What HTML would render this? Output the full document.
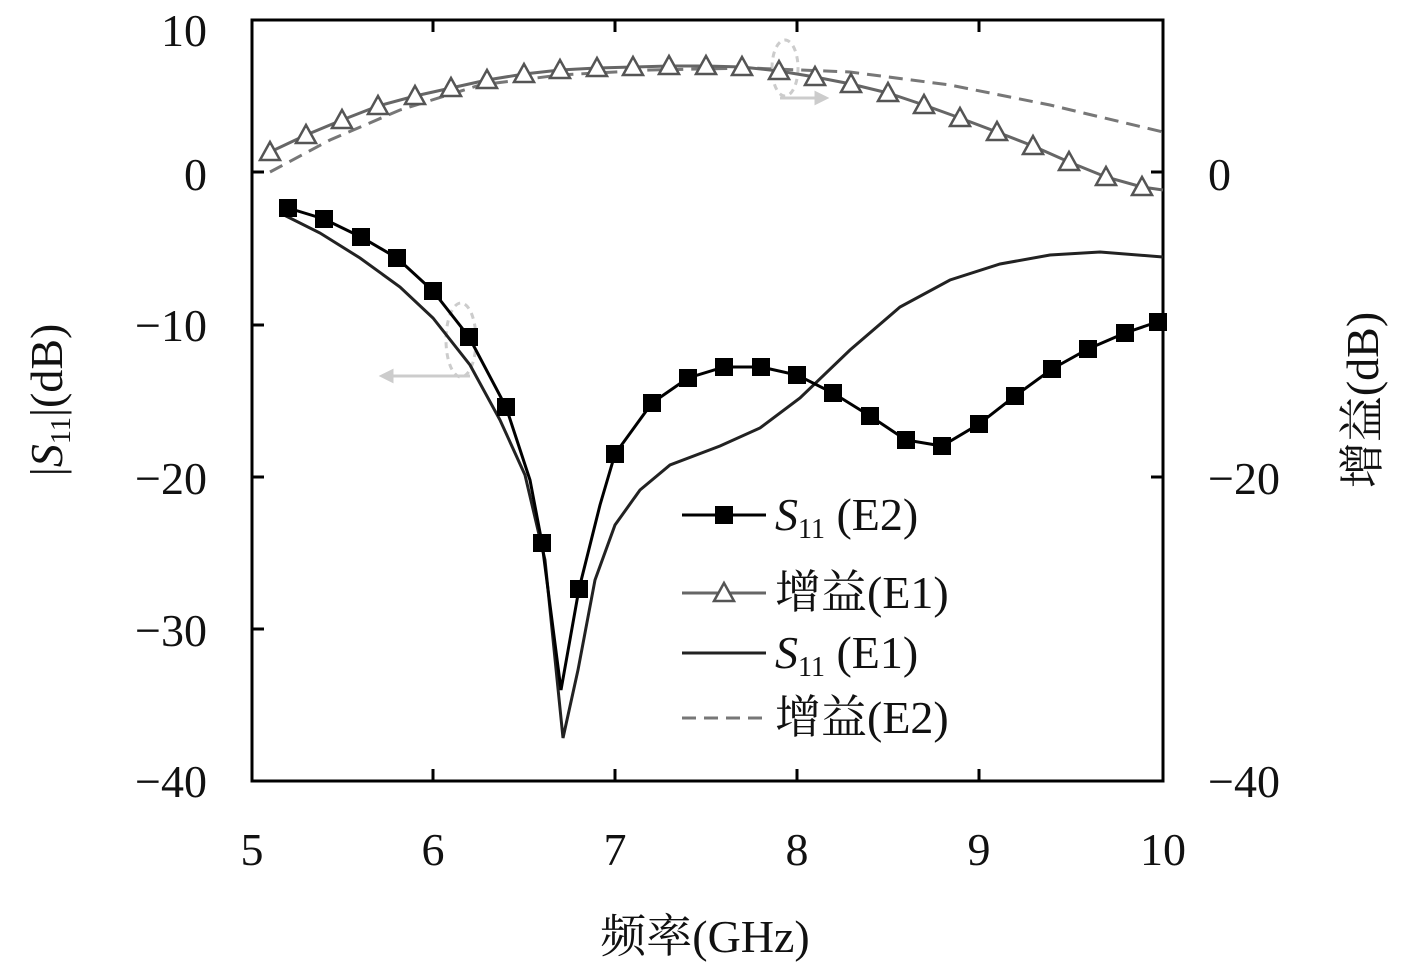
<!DOCTYPE html><html><head><style>body{margin:0;background:#fff}svg{display:block}text{font-family:"Liberation Serif","Noto Serif CJK SC",serif;font-size:46px;fill:#111}</style></head><body>
<svg width="1417" height="976" viewBox="0 0 1417 976">
<g stroke="#000" stroke-width="3" fill="none">
<rect x="252" y="20" width="911" height="761"/>
<path d="M252,172h12M252,325h12M252,477h12M252,629h12M1163,172h-12M1163,477h-12M433,781v-12M615,781v-12M797,781v-12M979,781v-12M433,20v12M615,20v12M797,20v12M979,20v12"/>
</g>
<g text-anchor="end"><text x="207" y="46">10</text><text x="207" y="190">0</text><text x="207" y="341">−10</text><text x="207" y="494">−20</text><text x="207" y="646">−30</text><text x="207" y="797">−40</text></g>
<g><text x="1208" y="190">0</text><text x="1208" y="494">−20</text><text x="1208" y="797">−40</text></g>
<g text-anchor="middle"><text x="252" y="865">5</text><text x="433" y="865">6</text><text x="615" y="865">7</text><text x="797" y="865">8</text><text x="979" y="865">9</text><text x="1163" y="865">10</text>
<text x="705" y="952">频率(GHz)</text></g>
<text transform="translate(62,400) rotate(-90)" text-anchor="middle">|<tspan font-style="italic">S</tspan><tspan font-size="28" dy="8">11</tspan><tspan dy="-8">|(dB)</tspan></text>
<text transform="translate(1378,400) rotate(-90)" text-anchor="middle">增益(dB)</text>
<g fill="none" stroke-dasharray="6,5" stroke="#ccc" stroke-width="3">
<ellipse cx="785" cy="68" rx="13" ry="28"/><ellipse cx="461" cy="340" rx="15" ry="37"/></g>
<g stroke="#ccc" stroke-width="3" fill="#ccc"><path d="M780,98h38"/><path d="M826,98l-10,-5v10z"/><path d="M470,376h-80"/><path d="M382,376l10,-5v10z"/></g>
<polyline fill="none" stroke="#777" stroke-width="3" stroke-dasharray="14,8" points="270,172 330,140 400,110 480,85 560,75 650,70 750,68 850,72 950,85 1050,105 1163,132"/>
<polyline fill="none" stroke="#666" stroke-width="3" points="270,152 306,135 342,120 378,106 415,96 451,88 487,80 524,74 560,70 597,68 633,67 669,66 706,66 742,67 779,71 815,77 851,84 888,93 924,105 960,118 997,132 1033,146 1069,162 1106,177 1142,187 1163,190"/>
<g fill="#fff" stroke="#555" stroke-width="2.5">
<path d="M270,142l10,18h-20z M306,125l10,18h-20z M342,110l10,18h-20z M378,96l10,18h-20z M415,86l10,18h-20z M451,78l10,18h-20z M487,70l10,18h-20z M524,64l10,18h-20z M560,60l10,18h-20z M597,58l10,18h-20z M633,57l10,18h-20z M669,56l10,18h-20z M706,56l10,18h-20z M742,57l10,18h-20z M779,61l10,18h-20z M815,67l10,18h-20z M851,74l10,18h-20z M888,83l10,18h-20z M924,95l10,18h-20z M960,108l10,18h-20z M997,122l10,18h-20z M1033,136l10,18h-20z M1069,152l10,18h-20z M1106,167l10,18h-20z M1142,177l10,18h-20z"/></g>
<polyline fill="none" stroke="#222" stroke-width="3" points="280,213 320,233 360,258 400,287 433,318 470,365 500,420 525,475 545,560 563,738 578,670 595,580 615,525 640,490 670,465 720,446 760,428 800,398 850,350 900,307 950,280 1000,264 1050,255 1100,252 1163,257"/>
<polyline fill="none" stroke="#000" stroke-width="3" points="288,208 324,219 361,237 397,258 433,291 469,337 506,407 530,480 542,543 561,690 579,589 600,505 615,454 652,403 688,378 724,367 761,367 797,375 833,393 870,416 906,440 942,446 979,424 1015,396 1052,369 1088,349 1125,333 1163,320"/>
<g fill="#000">
<rect x="279" y="199" width="18" height="18"/><rect x="315" y="210" width="18" height="18"/><rect x="352" y="228" width="18" height="18"/><rect x="388" y="249" width="18" height="18"/><rect x="424" y="282" width="18" height="18"/><rect x="460" y="328" width="18" height="18"/><rect x="497" y="398" width="18" height="18"/><rect x="533" y="534" width="18" height="18"/><rect x="570" y="580" width="18" height="18"/><rect x="606" y="445" width="18" height="18"/><rect x="643" y="394" width="18" height="18"/><rect x="679" y="369" width="18" height="18"/><rect x="715" y="358" width="18" height="18"/><rect x="752" y="358" width="18" height="18"/><rect x="788" y="366" width="18" height="18"/><rect x="824" y="384" width="18" height="18"/><rect x="861" y="407" width="18" height="18"/><rect x="897" y="431" width="18" height="18"/><rect x="933" y="437" width="18" height="18"/><rect x="970" y="415" width="18" height="18"/><rect x="1006" y="387" width="18" height="18"/><rect x="1043" y="360" width="18" height="18"/><rect x="1079" y="340" width="18" height="18"/><rect x="1116" y="324" width="18" height="18"/><rect x="1149" y="313" width="18" height="18"/>
</g>
<g stroke-width="3" fill="none">
<path d="M682,515h84" stroke="#000"/><path d="M682,593h84" stroke="#666"/><path d="M682,653h84" stroke="#222"/><path d="M682,718h84" stroke="#777" stroke-dasharray="14,8"/></g>
<rect x="715" y="506" width="18" height="18"/>
<path d="M724,583l10,18h-20z" fill="#fff" stroke="#555" stroke-width="2.5"/>
<text x="775" y="530"><tspan font-style="italic">S</tspan><tspan font-size="28" dy="8">11</tspan><tspan dy="-8"> (E2)</tspan></text>
<text x="775" y="608">增益(E1)</text>
<text x="775" y="668"><tspan font-style="italic">S</tspan><tspan font-size="28" dy="8">11</tspan><tspan dy="-8"> (E1)</tspan></text>
<text x="775" y="733">增益(E2)</text>
</svg></body></html>
